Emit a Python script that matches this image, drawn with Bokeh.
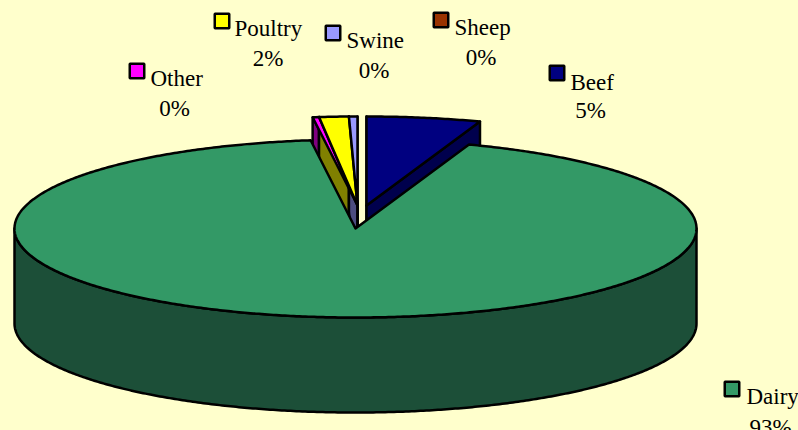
import math
from bokeh.core.properties import value
from bokeh.embed import file_html
from bokeh.models import Range1d
from bokeh.plotting import figure
from bokeh.resources import INLINE

# Clockwise from 12 o'clock, as the slices run round the pie
categories = ["Beef", "Sheep", "Dairy", "Other", "Poultry", "Swine"]
shares = [5.4, 0.0, 92.5, 0.3, 1.4, 0.4]
percent_labels = ["5%", "0%", "93%", "0%", "2%", "0%"]

top_colors = ["#000080", "#993300", "#339966", "#FF00FF", "#FFFF00", "#9999FF"]
side_colors = ["#00004D", "#5C1F00", "#1C4F38", "#800080", "#808000", "#4D4D80"]

BG = "#FFFFCC"
W, H = 798, 430
RX, RY, DEPTH = 341, 89, 95
LW = 2.5
# pie centre of each slice once pulled out
centres = {
    "Beef": (366, 205), "Sheep": (366, 205), "Dairy": (355, 228),
    "Other": (357, 205), "Poultry": (357, 205), "Swine": (357, 205),
}
# square centre, name x, name baseline, percent centre x, percent baseline
legend = {
    "Beef": (556.5, 72.5, 570, 82, 590, 110),
    "Sheep": (440.5, 19.5, 454, 27, 480.5, 57),
    "Dairy": (731.5, 388.5, 746, 396, 770, 427),
    "Other": (136.5, 70.5, 150, 78, 174, 108),
    "Poultry": (221.5, 20.5, 234, 28, 267.5, 58),
    "Swine": (332.5, 32.5, 346, 40, 373.5, 70),
}

p = figure(width=W, height=H, x_range=Range1d(0, W), y_range=Range1d(H, 0),
           output_backend="svg", toolbar_location=None, min_border=0,
           background_fill_color=BG, border_fill_color=BG, outline_line_color=None)
p.axis.visible = False
p.grid.visible = False


def rim(c, a):
    r = math.radians(a)
    return c[0] + RX * math.sin(r), c[1] - RY * math.cos(r)


def arc(c, a0, a1):
    n = max(2, int(abs(a1 - a0) * 2))
    return [rim(c, a0 + (a1 - a0) * i / n) for i in range(n + 1)]


def patch(pts, color):
    p.patch([q[0] for q in pts], [q[1] for q in pts], fill_color=color,
            line_color="black", line_width=LW, line_join="round")


spans = {}
start = 0.0
for name, share in zip(categories, shares):
    end = start + share * 3.6
    spans[name] = (start, end)
    start = end

side = dict(zip(categories, side_colors))
top = dict(zip(categories, top_colors))
small = [n for n, s in zip(categories, shares) if s > 0 and n != "Dairy"]

# walls of the pulled-out slices, then their tops
for name in small:
    c = centres[name]
    a0, a1 = spans[name]
    for a in (a0, a1):
        e = rim(c, a)
        patch([c, e, (e[0], e[1] + DEPTH), (c[0], c[1] + DEPTH)], side[name])
for name in small:
    c = centres[name]
    patch([c] + arc(c, *spans[name]), top[name])

# the large slice: outer wall, then top
c = centres["Dairy"]
front = arc(c, 90, 270)
patch(front + [(x, y + DEPTH) for x, y in reversed(front)], side["Dairy"])
patch([c] + arc(c, *spans["Dairy"]), top["Dairy"])

# labels
font = value("Liberation Serif")
for name, label, color in zip(categories, percent_labels, top_colors):
    sx, sy, tx, ty, px, py = legend[name]
    p.scatter([sx], [sy], marker="square", size=14.5, fill_color=color,
              line_color="black", line_width=LW)
    p.text([tx], [ty], text=[name], text_font=font, text_font_size="23px",
           text_color="black", text_align="left", text_baseline="alphabetic")
    p.text([px], [py], text=[label], text_font=font, text_font_size="23px",
           text_color="black", text_align="center", text_baseline="alphabetic")

style = "<style>html,body{margin:0;padding:0;overflow:hidden;background:%s}</style>" % BG
open("out.html", "w").write(file_html(p, INLINE).replace("<head>", "<head>" + style, 1))
